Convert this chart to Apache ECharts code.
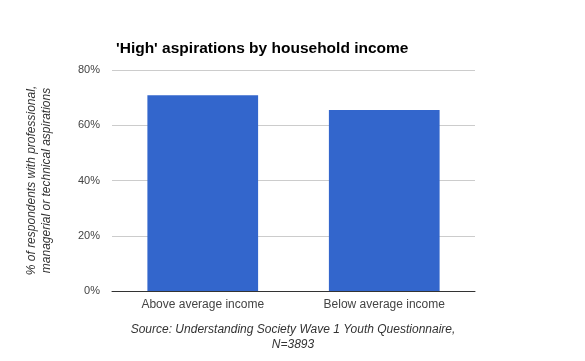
<!DOCTYPE html>
<html>
<head>
<meta charset="utf-8">
<script src="https://cdn.jsdelivr.net/npm/echarts@6/dist/echarts.min.js"></script>
<style>html,body{margin:0;padding:0;background:#fff}#c{width:585px;height:361px}</style>
</head>
<body>
<div id="c"></div>
<script>
var categories = ['Above average income', 'Below average income'];
var values = [70.9, 65.5];
var yTicks = [0, 20, 40, 60, 80];
var titleText = "'High' aspirations by household income";
var yAxisName = '% of respondents with professional,\nmanagerial or technical aspirations';
var sourceText = 'Source: Understanding Society Wave 1 Youth Questionnaire,\nN=3893';

var chart = echarts.init(document.getElementById('c'), null, {renderer: 'canvas'});
var ff = '"Liberation Sans", Arial, sans-serif';
chart.setOption({
  animation: false,
  textStyle: {fontFamily: ff},
  title: [
    {text: titleText, left: 111, top: 36, textStyle: {fontFamily: ff, fontSize: 15.5, fontWeight: 'bold', color: '#000'}},
    {text: sourceText, left: 288, textAlign: 'center', top: 317, textStyle: {fontFamily: ff, fontSize: 12, fontStyle: 'italic', fontWeight: 'normal', color: '#333', lineHeight: 15}}
  ],
  grid: {left: 112, right: 110, top: 70, bottom: 70, containLabel: false},
  xAxis: {
    type: 'category', data: categories,
    axisLine: {lineStyle: {color: '#333', width: 1}},
    axisTick: {show: false},
    axisLabel: {color: '#444', fontSize: 12, margin: 8, fontFamily: ff}
  },
  yAxis: {
    type: 'value', min: yTicks[0], max: yTicks[yTicks.length - 1], interval: 20,
    name: yAxisName, nameLocation: 'middle', nameGap: 58, nameRotate: 90,
    nameTextStyle: {fontStyle: 'italic', color: '#333', fontSize: 12, lineHeight: 15, fontFamily: ff},
    axisLine: {show: false}, axisTick: {show: false},
    axisLabel: {formatter: '{value}%', color: '#444', fontSize: 11, margin: 12, fontFamily: ff},
    splitLine: {lineStyle: {color: '#ccc', width: 1}}
  },
  series: [{
    type: 'bar', data: values, barWidth: '61%',
    itemStyle: {color: '#3366cc'}
  }]
});
</script>
</body>
</html>
